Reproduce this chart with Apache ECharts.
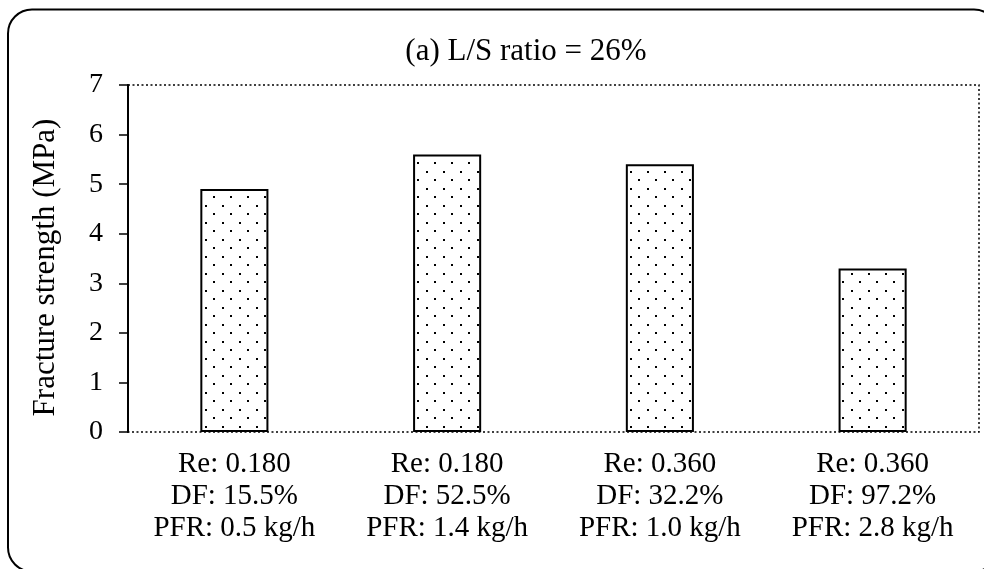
<!DOCTYPE html>
<html>
<head>
<meta charset="utf-8">
<script src="https://cdn.jsdelivr.net/npm/echarts@6/dist/echarts.min.js"></script>
<style>
  html, body { margin: 0; padding: 0; background: #fff; }
  #chart { width: 984px; height: 569px; }
</style>
</head>
<body>
<div id="chart"></div>
<script>
// Fracture strength for four processing conditions at L/S ratio = 26%
const categories = [
  'Re: 0.180\nDF: 15.5%\nPFR: 0.5 kg/h',
  'Re: 0.180\nDF: 52.5%\nPFR: 1.4 kg/h',
  'Re: 0.360\nDF: 32.2%\nPFR: 1.0 kg/h',
  'Re: 0.360\nDF: 97.2%\nPFR: 2.8 kg/h'
];
const strengthValues = [4.9, 5.6, 5.4, 3.3];
const yTicks = [0, 1, 2, 3, 4, 5, 6, 7];

// Dotted fill for the bars: staggered small black dots
function makeDotPattern() {
  const c = document.createElement('canvas');
  c.width = 17; c.height = 17;
  const ctx = c.getContext('2d');
  ctx.fillStyle = '#fff';
  ctx.fillRect(0, 0, 17, 17);
  ctx.fillStyle = '#000';
  ctx.fillRect(1, 1, 2, 2);
  ctx.fillRect(9, 9, 2, 2);
  return c;
}

const FONT = '"Liberation Serif", "Times New Roman", serif';
const chart = echarts.init(document.getElementById('chart'), null, { renderer: 'canvas' });

chart.setOption({
  animation: false,
  backgroundColor: '#fff',
  title: {
    text: '(a) L/S ratio = 26%',
    left: 521,
    top: 31,
    textAlign: 'center',
    textStyle: { fontFamily: FONT, fontSize: 31, fontWeight: 'normal', color: '#000' }
  },
  grid: {
    left: 128, right: 5, top: 85, bottom: 137,
    show: true,
    borderColor: '#000',
    borderWidth: 1.5,
    borderType: [2, 2.5],
    backgroundColor: 'transparent'
  },
  graphic: [{
    type: 'rect',
    shape: { x: 8, y: 9.5, width: 990, height: 562, r: 24 },
    style: { fill: 'none', stroke: '#000', lineWidth: 2 },
    silent: true,
    z: 100
  }],
  xAxis: {
    type: 'category',
    data: categories,
    axisLine: { show: false },
    axisTick: { show: false },
    axisLabel: {
      interval: 0,
      margin: 16,
      fontFamily: FONT,
      fontSize: 29,
      lineHeight: 32,
      color: '#000',
      align: 'center'
    }
  },
  yAxis: {
    type: 'value',
    min: yTicks[0],
    max: yTicks[yTicks.length - 1],
    interval: 1,
    name: 'Fracture strength (MPa)',
    nameLocation: 'middle',
    nameGap: 67,
    nameTextStyle: { fontFamily: FONT, fontSize: 31, color: '#000', padding: [0, 18, 0, 0] },
    axisLine: { show: true, lineStyle: { color: '#000', width: 2 } },
    axisTick: { show: true, length: 9, lineStyle: { color: '#000', width: 1.5 } },
    axisLabel: { margin: 25, fontFamily: FONT, fontSize: 28, color: '#000' },
    splitLine: { show: false }
  },
  series: [{
    type: 'bar',
    data: strengthValues,
    barWidth: '32%',
    itemStyle: {
      color: { image: makeDotPattern(), repeat: 'repeat' },
      borderColor: '#000',
      borderWidth: 2
    }
  }]
});
</script>
</body>
</html>
